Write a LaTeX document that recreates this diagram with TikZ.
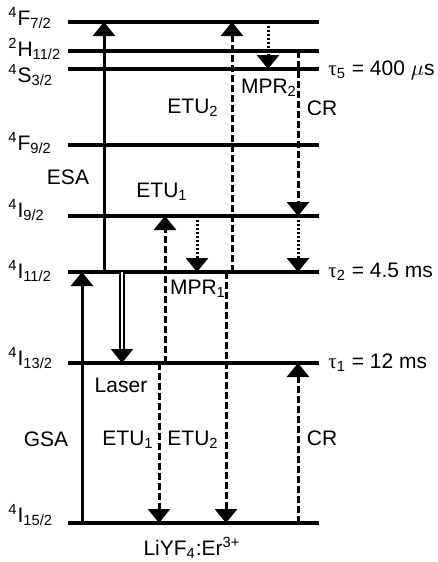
\documentclass[tikz,border=0pt]{standalone}
\usepackage{fontspec}
\setmainfont{Liberation Sans}
\newfontfamily\grkfont{Liberation Serif}
\usetikzlibrary{arrows.meta, positioning}

\begin{document}
\begin{tikzpicture}[
  x=0.5pt, y=-0.5pt,
  every node/.style={font=\fontsize{10.5}{12}\selectfont, inner sep=0pt},
  level/.style={line width=1.8pt},
  term/.style={anchor=west},
  life/.style={anchor=west},
  tip/.style={-{Triangle[width=11pt,length=7pt]}},
  solidarrow/.style={tip, line width=1.5pt},
  dasharrow/.style={tip, line width=1.5pt, dash pattern=on 3.5pt off 1.5pt},
  dotarrow/.style={tip, line width=1.5pt, dash pattern=on 1pt off 1pt},
  laserarrow/.style={tip, double, line width=1.2pt, double distance=0.8pt}
]
\useasboundingbox (0,0) rectangle (438,562);

% Energy levels
\coordinate (F72) at (68,22);
\coordinate (H112) at (68,51);
\coordinate (S32) at (68,69);
\coordinate (F92) at (68,145);
\coordinate (I92) at (68,216);
\coordinate (I112) at (68,272);
\coordinate (I132) at (68,363);
\coordinate (I152) at (68,523);
\foreach \lvl in {F72,H112,S32,F92,I92,I112,I132,I152}
  \draw[level] (\lvl) -- ++(251,0);

% Term symbols
\node[term] (tF72) at (8,18) {\textsuperscript{4}F\textsubscript{7/2}};
\node[term] (tH112) at (8,49) {\textsuperscript{2}H\textsubscript{11/2}};
\node[term] (tS32) at (8,75) {\textsuperscript{4}S\textsubscript{3/2}};
\node[term] (tF92) at (8,143) {\textsuperscript{4}F\textsubscript{9/2}};
\node[term] (tI92) at (8,210) {\textsuperscript{4}I\textsubscript{9/2}};
\node[term] (tI112) at (8,271) {\textsuperscript{4}I\textsubscript{11/2}};
\node[term] (tI132) at (8,358) {\textsuperscript{4}I\textsubscript{13/2}};
\node[term] (tI152) at (8,515) {\textsuperscript{4}I\textsubscript{15/2}};

% Lifetimes
\node[life] (tau5) at (328,70) {{\grkfont τ}\textsubscript{5} = 400 $\mu$s};
\node[life] (tau2) at (328,272) {{\grkfont τ}\textsubscript{2} = 4.5 ms};
\node[life] (tau1) at (328,363) {{\grkfont τ}\textsubscript{1} = 12 ms};

% Transition columns
\coordinate (cGSA) at (82,0);
\coordinate (cESA) at (104,0);
\coordinate (cLaser) at (122,0);
\coordinate (cETUa) at (159,0);
\coordinate (cETUb) at (165,0);
\coordinate (cMPRa) at (197,0);
\coordinate (cETUc) at (226,0);
\coordinate (cETUd) at (232,0);
\coordinate (cMPRb) at (268,0);
\coordinate (cCR) at (298,0);

% Transitions
\draw[solidarrow] (cGSA |- I152) -- (cGSA |- I112);
\draw[solidarrow] (cESA |- I112) -- (cESA |- F72);
\draw[laserarrow] (cLaser |- I112) -- (cLaser |- I132);
\draw[dasharrow] (cETUb |- I132) -- (cETUb |- I92);
\draw[dasharrow] (cETUa |- I132) -- (cETUa |- I152);
\draw[dotarrow] (cMPRa |- I92) -- (cMPRa |- I112);
\draw[dasharrow] (cETUd |- I112) -- (cETUd |- F72);
\draw[dasharrow] (cETUc |- I112) -- (cETUc |- I152);
\draw[dotarrow] (cMPRb |- F72) -- (cMPRb |- S32);
\draw[dasharrow] (cCR |- H112) -- (cCR |- I92);
\draw[dotarrow] (cCR |- I92) -- (cCR |- I112);
\draw[dasharrow] (cCR |- I152) -- (cCR |- I132);

% Transition labels
\node (lESA) at (68,177) {ESA};
\node (lETUa) at (162,192) {ETU\textsubscript{1}};
\node (lETUb) at (193,108) {ETU\textsubscript{2}};
\node (lMPRb) at (269,88) {MPR\textsubscript{2}};
\node (lCRa) at (322,108) {CR};
\node (lMPRa) at (198,289) {MPR\textsubscript{1}};
\node (lLaser) at (121,385) {Laser};
\node (lGSA) at (46,439) {GSA};
\node (lETUc) at (128,440) {ETU\textsubscript{1}};
\node (lETUd) at (193,440) {ETU\textsubscript{2}};
\node (lCRb) at (322,438) {CR};
\node (host) at (192,548) {LiYF\textsubscript{4}:Er\textsuperscript{3+}};
\end{tikzpicture}
\end{document}
